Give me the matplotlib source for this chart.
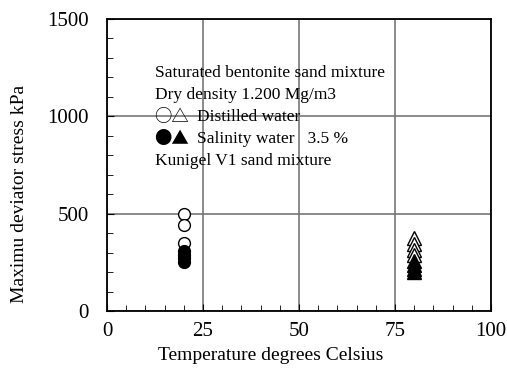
import matplotlib
matplotlib.use("Agg")
import matplotlib.pyplot as plt
from matplotlib.ticker import MultipleLocator

plt.rcParams['font.family'] = ['Liberation Serif', 'DejaVu Sans']

# data
temp_circle = 20
temp_tri = 80
distilled_circle = [500, 440, 350]
salinity_circle = [310, 290, 270, 250]
distilled_tri = [375, 345, 315, 290]
salinity_tri = [255, 235, 215, 200]

notes = ["Saturated bentonite sand mixture",
         "Dry density 1.200 Mg/m3",
         "Distilled water",
         "Salinity water   3.5 %",
         "Kunigel V1 sand mixture"]
note_symbols = ["", "", "\u25cb\u25b3", "\u25cf\u25b2", ""]

fig = plt.figure(figsize=(5.07, 3.71), dpi=100)
ax = fig.add_axes([107/507, 1 - 311/371, 384/507, 292/371])

ax.plot([temp_circle]*len(distilled_circle), distilled_circle, 'o', ms=8.5,
        mfc='white', mec='black', mew=1.0, zorder=3)
ax.plot([temp_circle]*len(salinity_circle), salinity_circle, 'o', ms=8.5,
        mfc='black', mec='black', zorder=3)
ax.plot([temp_tri]*len(distilled_tri), distilled_tri, '^', ms=9.5,
        mfc='white', mec='black', mew=1.0, zorder=3)
ax.plot([temp_tri]*len(salinity_tri), salinity_tri, '^', ms=9.5,
        mfc='black', mec='black', zorder=3)

ax.set_xlim(0, 100)
ax.set_ylim(0, 1500)
ax.xaxis.set_major_locator(MultipleLocator(25))
ax.xaxis.set_minor_locator(MultipleLocator(5))
ax.yaxis.set_major_locator(MultipleLocator(500))
ax.yaxis.set_minor_locator(MultipleLocator(100))
ax.grid(True, which='major', color='#777777', lw=1.2)
ax.tick_params(which='both', direction='in', top=False, right=False,
               labelsize=15)
ax.tick_params(axis='y', pad=13)
ax.tick_params(axis='x', pad=8)
ax.tick_params(which='major', length=5)
ax.tick_params(which='minor', length=4)
for s in ax.spines.values():
    s.set_linewidth(1.3)

fig.text(271/507, 1 - 355/371, "Temperature degrees Celsius", fontsize=14,
         ha='center', va='center')
fig.text(20/507, 1 - 194/371, "Maximu deviator stress kPa", fontsize=14,
         ha='center', va='center', rotation=90)

for i, line in enumerate(notes):
    y = 1 - (73 + 22*i)/371
    if note_symbols[i]:
        fig.text(154/507, y, note_symbols[i], fontsize=12.5, va='center',
                 family='Noto Sans CJK JP')
        fig.text(197/507, y, line, fontsize=12.5, va='center')
    else:
        fig.text(155/507, y, line, fontsize=12.5, va='center')

fig.savefig("out.png", dpi=100)
